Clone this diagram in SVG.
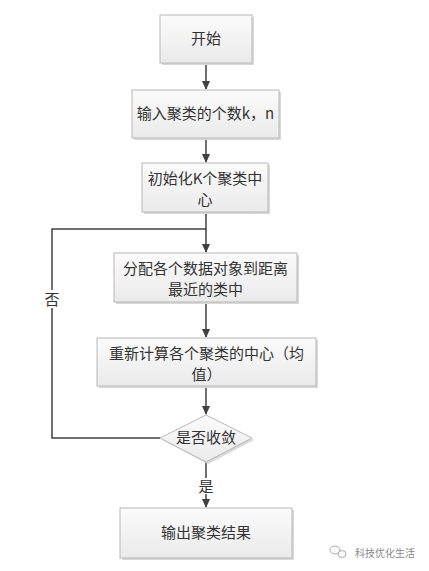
<svg xmlns="http://www.w3.org/2000/svg" width="429" height="571" viewBox="0 0 429 571">
<style>
.box{fill:url(#g);stroke:#b8b8b8;stroke-width:1}
.sh{fill:#d8d8d8}
.t{font-family:"Noto Sans CJK SC","Liberation Sans",sans-serif;font-size:15px;fill:#333;text-anchor:middle}
.ln{stroke:#404040;stroke-width:1.5;fill:none}
.wm{font-family:"Noto Sans CJK SC",sans-serif;font-size:10px;fill:#888}
</style>
<defs>
<linearGradient id="g" x1="0" y1="0" x2="0" y2="1">
<stop offset="0" stop-color="#fbfbfb"/>
<stop offset="1" stop-color="#eaeaea"/>
</linearGradient>
<marker id="a" markerWidth="10" markerHeight="10" refX="8" refY="4" orient="auto" markerUnits="userSpaceOnUse">
<path d="M0,0 L9,4 L0,8 z" fill="#404040"/>
</marker>
</defs>
<rect width="429" height="571" fill="#fff"/>
<g id="connectors">
<line class="ln" x1="206" y1="63" x2="206" y2="89" marker-end="url(#a)"/>
<line class="ln" x1="206" y1="138" x2="206" y2="162" marker-end="url(#a)"/>
<line class="ln" x1="206" y1="212" x2="206" y2="252" marker-end="url(#a)"/>
<line class="ln" x1="206" y1="302" x2="206" y2="337" marker-end="url(#a)"/>
<line class="ln" x1="206" y1="386" x2="206" y2="414" marker-end="url(#a)"/>
<line class="ln" x1="206" y1="462" x2="206" y2="478"/>
<line class="ln" x1="206" y1="494" x2="206" y2="507" marker-end="url(#a)"/>
<polyline class="ln" points="160,438 52,438 52,308"/>
<polyline class="ln" points="52,290 52,229 206,229"/>
<text class="t" x="52" y="305">否</text>
<text class="t" x="206" y="492">是</text>
</g>
<g id="n1"><rect class="sh" x="162" y="17" width="92" height="48"/><rect class="box" x="160" y="15" width="92" height="48"/><text class="t" x="206" y="44">开始</text></g>
<g id="n2"><rect class="sh" x="134" y="92" width="147" height="48"/><rect class="box" x="132" y="90" width="147" height="48"/><text class="t" x="205.5" y="119">输入聚类的个数k，n</text></g>
<g id="n3"><rect class="sh" x="144" y="165" width="126" height="49"/><rect class="box" x="142" y="163" width="126" height="49"/><text class="t" x="205" y="184">初始化K个聚类中</text><text class="t" x="205" y="205">心</text></g>
<g id="n4"><rect class="sh" x="116" y="255" width="183" height="49"/><rect class="box" x="114" y="253" width="183" height="49"/><text class="t" x="205.5" y="274">分配各个数据对象到距离</text><text class="t" x="205.5" y="295">最近的类中</text></g>
<g id="n5"><rect class="sh" x="99" y="340" width="219" height="48"/><rect class="box" x="97" y="338" width="219" height="48"/><text class="t" x="206.5" y="359">重新计算各个聚类的中心（均</text><text class="t" x="206.5" y="380">值）</text></g>
<g id="n6"><polygon points="208,417 254,440 208,464 162,440" fill="#d8d8d8"/><polygon class="box" points="206,415 252,438 206,462 160,438"/><text class="t" x="206" y="443">是否收敛</text></g>
<g id="n7"><rect class="sh" x="122" y="510" width="172" height="50"/><rect class="box" x="120" y="508" width="172" height="50"/><text class="t" x="206" y="538">输出聚类结果</text></g>
<g id="wm"><ellipse cx="335" cy="550" rx="5" ry="4" fill="none" stroke="#aaa" stroke-width="1"/><ellipse cx="342" cy="554" rx="4" ry="3.5" fill="none" stroke="#aaa" stroke-width="1"/><text class="wm" x="355" y="557">科技优化生活</text></g>
</svg>
